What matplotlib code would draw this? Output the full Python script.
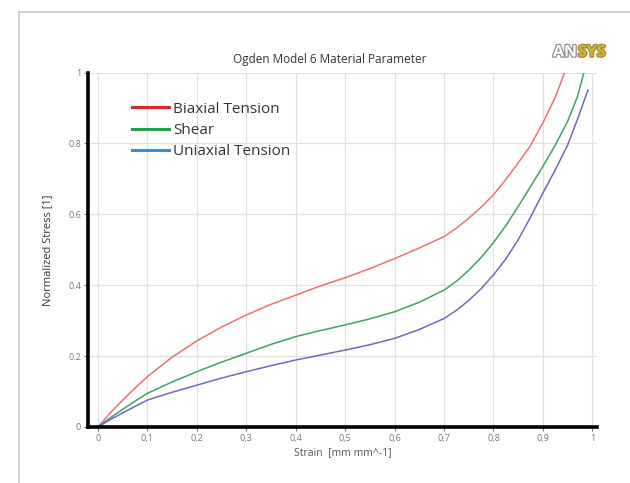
import matplotlib.pyplot as plt
import matplotlib.patheffects as pe
from matplotlib.lines import Line2D
from matplotlib.patches import Rectangle

# Daten
strain = [0.0, 0.025, 0.05, 0.075, 0.1, 0.15, 0.2, 0.25, 0.3, 0.35, 0.4, 0.45,
          0.5, 0.55, 0.6, 0.65, 0.7, 0.725, 0.75, 0.775, 0.8, 0.825, 0.85, 0.875,
          0.9, 0.925]
biaxial = [0.0, 0.04, 0.076, 0.11, 0.142, 0.197, 0.243, 0.282, 0.316, 0.346,
           0.372, 0.398, 0.421, 0.447, 0.475, 0.505, 0.537, 0.561, 0.589, 0.62,
           0.655, 0.698, 0.745, 0.794, 0.858, 0.93]
biaxial_end_x = [0.944]
biaxial_end_y = [1.0]

shear = [0.0, 0.026, 0.05, 0.073, 0.095, 0.127, 0.156, 0.183, 0.208, 0.233,
         0.255, 0.272, 0.288, 0.305, 0.325, 0.352, 0.386, 0.411, 0.442, 0.478,
         0.52, 0.568, 0.622, 0.678, 0.735, 0.795]
shear_end_x = [0.95, 0.97, 0.983]
shear_end_y = [0.862, 0.932, 1.0]

uniaxial = [0.0, 0.021, 0.04, 0.058, 0.076, 0.098, 0.118, 0.138, 0.156, 0.173,
            0.189, 0.203, 0.217, 0.232, 0.250, 0.275, 0.306, 0.329, 0.357, 0.39,
            0.429, 0.474, 0.528, 0.592, 0.66, 0.725]
uniaxial_end_x = [0.95, 0.97, 0.991]
uniaxial_end_y = [0.795, 0.868, 0.95]

labels = ["Biaxial Tension", "Shear", "Uniaxial Tension"]
x_ticks = [0, 0.1, 0.2, 0.3, 0.4, 0.5, 0.6, 0.7, 0.8, 0.9, 1.0]
x_tick_labels = ["0", "0,1", "0,2", "0,3", "0,4", "0,5", "0,6", "0,7", "0,8", "0,9", "1"]
y_ticks = [0, 0.2, 0.4, 0.6, 0.8, 1.0]
y_tick_labels = ["0", "0.2", "0.4", "0.6", "0.8", "1"]

curve_colors = ["#ee7070", "#3fa35f", "#6a6ac6"]
legend_colors = ["#d9282c", "#25a04f", "#3a8fd0"]

plt.rcParams['font.family'] = ['Open Sans', 'DejaVu Sans']

W, H = 630, 483
fig = plt.figure(figsize=(W / 100, H / 100), dpi=100)

# grauer Rahmen, rechts und unten abgeschnitten
fig.patches.append(Rectangle((19 / W, -0.1), 1.2, (H - 12) / H + 0.1,
                             transform=fig.transFigure, fill=False,
                             edgecolor="#c8c8c8", linewidth=1.2))

ax = fig.add_axes([88 / W, (H - 427) / H, (597 - 88) / W, (427 - 72.5) / H])

ax.plot(strain + biaxial_end_x, biaxial + biaxial_end_y, color=curve_colors[0], lw=1.1)
ax.plot(strain + shear_end_x, shear + shear_end_y, color=curve_colors[1], lw=1.1)
ax.plot(strain + uniaxial_end_x, uniaxial + uniaxial_end_y, color=curve_colors[2], lw=1.1)

ax.set_xlim(-0.0202, 1.0095)
ax.set_ylim(0, 1)
ax.set_xticks(x_ticks)
ax.set_xticklabels(x_tick_labels)
ax.set_yticks(y_ticks)
ax.set_yticklabels(y_tick_labels)
ax.tick_params(labelsize=6.5, colors="#777777", length=3, width=0.8, pad=2)
ax.grid(True, color="#e0e0e0", linewidth=0.9)
for s in ["top", "right"]:
    ax.spines[s].set_visible(False)
for s in ["left", "bottom"]:
    ax.spines[s].set_linewidth(2.6)
    ax.spines[s].set_color("black")

ax.set_xlabel("Strain  [mm mm^-1]", fontsize=7.5, color="#555555", labelpad=3)
ax.set_ylabel("Normalized Stress [1]", fontsize=8, color="#333333", labelpad=11)
ax.set_title("Ogden Model 6 Material Parameter", fontsize=8.5, color="#333333",
             pad=7, x=0.475)

handles = [Line2D([], [], color=c, lw=2.2) for c in legend_colors]
leg = ax.legend(handles, labels, loc="upper left", bbox_to_anchor=(0.075, 0.935),
                frameon=False, fontsize=11, handlelength=2.4, handletextpad=0.25,
                labelspacing=0.42, borderaxespad=0)
for t in leg.get_texts():
    t.set_color("#333333")

# ANSYS Logo
stroke = [pe.withStroke(linewidth=1.8, foreground="#8c8c8c")]
fig.text(553 / W, (H - 52.5) / H, "AN", fontsize=11.5, fontweight="bold",
         color="white", va="center", ha="left", path_effects=stroke)
fig.text(578 / W, (H - 52.5) / H, "SYS", fontsize=11.5, fontweight="bold",
         color="#d2b43c", va="center", ha="left",
         path_effects=[pe.withStroke(linewidth=1.8, foreground="#a08a30")])

fig.savefig("out.png", dpi=100)
